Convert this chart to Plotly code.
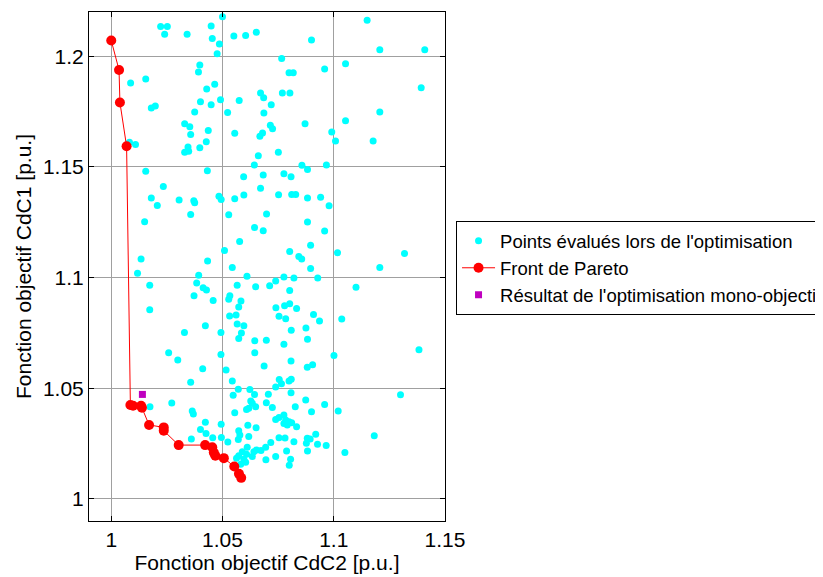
import plotly.graph_objects as go

# Evaluated points (CdC2, CdC1)
pts_x = [1.0222, 1.0252, 1.0240, 1.0341, 1.0449, 1.0500, 1.0454, 1.0486, 1.0476, 1.0551,
         1.0604, 1.0652, 1.0766, 1.1150, 1.0900, 1.1207, 1.1409,
         1.0398, 1.0392, 1.0087, 1.0155, 1.0429, 1.0465, 1.0401, 1.0449, 1.0491, 1.0575,
         1.0671, 1.0685, 1.0719, 1.0180, 1.0198, 1.0375, 1.0523, 1.0686, 1.0330, 1.0353,
         1.0357, 1.0436, 1.0555, 1.0715, 1.0725, 1.0680, 1.0668, 1.0082, 1.0109, 1.0345,
         1.0427, 1.0398, 1.1053, 1.0959, 1.0799, 1.0818, 1.1393, 1.0769, 1.0803, 1.1207,
         1.1053, 1.0871, 1.0991, 1.1008, 1.1177,
         1.0330, 1.0348, 1.0751, 1.0661, 1.0643, 1.0155, 1.0432, 1.0595, 1.0683, 1.0857,
         1.0882, 1.0967, 1.0776, 1.0808, 1.0234, 1.0180, 1.0207, 1.0305, 1.0371, 1.0375,
         1.0357, 1.0484, 1.0494, 1.0555, 1.0596, 1.0671, 1.0752, 1.0811, 1.0829, 1.0528,
         1.0698, 1.0150, 1.0644, 1.0683, 1.0577, 1.0509, 1.0882, 1.0941, 1.0979, 1.0882,
         1.0959, 1.0896,
         1.0802, 1.0843, 1.0856, 1.1017, 1.1318, 1.0134, 1.0433, 1.0544, 1.0896, 1.1207,
         1.0118, 1.0393, 1.0610, 1.0776, 1.0821, 1.0928, 1.0739, 1.0712, 1.0173, 1.0384,
         1.0413, 1.0428, 1.0566, 1.0649, 1.0802, 1.1100, 1.0372, 1.0458, 1.0533, 1.0528,
         1.0583, 1.0573, 1.0173, 1.0740, 1.0779, 1.0802, 1.0833, 1.0532, 1.0561, 1.0754,
         1.0784, 1.0909, 1.0936, 1.1036, 1.0423, 1.0566, 1.0596, 1.0875, 1.0809, 1.0329,
         1.0493, 1.0585, 1.0573, 1.0645, 1.0697, 1.0776, 1.0882,
         1.0258, 1.0299, 1.0493, 1.0645, 1.0687, 1.0516, 1.0411, 1.0808, 1.0881, 1.0905,
         1.1383, 1.1001, 1.0357, 1.0544, 1.0571, 1.0623, 1.0644, 1.0548, 1.0706, 1.0739,
         1.0755, 1.0765, 1.0799, 1.0809, 1.0808, 1.0627, 1.0634, 1.0608, 1.0618, 1.0649,
         1.0697, 1.0724, 1.0827, 1.0874, 1.0959, 1.1020, 1.1300, 1.0555, 1.0364, 1.0369,
         1.0272, 1.0174, 1.0900, 1.0739, 1.0754, 1.0776, 1.0784, 1.0799, 1.0791, 1.0811,
         1.0776, 1.0833, 1.0423, 1.0494, 1.0614, 1.0651, 1.0401, 1.0426, 1.0456, 1.0495,
         1.0360, 1.0573, 1.0578, 1.0571, 1.0618, 1.0524, 1.0717, 1.0754, 1.0781, 1.0821,
         1.0881, 1.0894, 1.0877, 1.0919, 1.0927, 1.0966, 1.1050, 1.1182, 1.0694, 1.0653,
         1.0641, 1.0611, 1.0589, 1.0573, 1.0608, 1.0634, 1.0695, 1.0739, 1.0806, 1.0800,
         1.0596, 1.0604, 1.0582, 1.0563, 1.0788, 1.0882, 1.0673]
pts_y = [1.2134, 1.2134, 1.2100, 1.2100, 1.2137, 1.2178, 1.2080, 1.2055, 1.2011, 1.2091,
         1.2094, 1.2109, 1.1990, 1.2163, 1.2074, 1.2029, 1.2029,
         1.1961, 1.1929, 1.1879, 1.1897, 1.1852, 1.1874, 1.1795, 1.1781, 1.1804, 1.1800,
         1.1834, 1.1813, 1.1781, 1.1766, 1.1775, 1.1748, 1.1746, 1.1744, 1.1695, 1.1681,
         1.1647, 1.1664, 1.1652, 1.1688, 1.1673, 1.1653, 1.1638, 1.1611, 1.1601, 1.1590,
         1.1614, 1.1587, 1.1966, 1.1943, 1.1925, 1.1925, 1.1858, 1.1834, 1.1834, 1.1748,
         1.1709, 1.1695, 1.1658, 1.1617, 1.1617,
         1.1566, 1.1571, 1.1566, 1.1551, 1.1509, 1.1480, 1.1483, 1.1455, 1.1464, 1.1507,
         1.1488, 1.1509, 1.1469, 1.1455, 1.1411, 1.1360, 1.1326, 1.1350, 1.1347, 1.1338,
         1.1285, 1.1367, 1.1353, 1.1356, 1.1373, 1.1404, 1.1374, 1.1375, 1.1375, 1.1284,
         1.1287, 1.1252, 1.1226, 1.1211, 1.1163, 1.1122, 1.1360, 1.1363, 1.1324, 1.1251,
         1.1210, 1.1146,
         1.1118, 1.1095, 1.1084, 1.1112, 1.1109, 1.1084, 1.1075, 1.1045, 1.1041, 1.1045,
         1.1020, 1.1010, 1.1006, 1.1003, 1.0998, 1.0998, 1.0985, 1.0963, 1.0965, 1.0975,
         1.0954, 1.0944, 1.0965, 1.0958, 1.0941, 1.0956, 1.0918, 1.0896, 1.0918, 1.0902,
         1.0894, 1.0867, 1.0855, 1.0864, 1.0873, 1.0882, 1.0860, 1.0826, 1.0831, 1.0825,
         1.0814, 1.0833, 1.0804, 1.0813, 1.0782, 1.0790, 1.0782, 1.0772, 1.0762, 1.0752,
         1.0752, 1.0750, 1.0725, 1.0715, 1.0717, 1.0699, 1.0721,
         1.0660, 1.0628, 1.0652, 1.0660, 1.0600, 1.0582, 1.0588, 1.0623, 1.0595, 1.0606,
         1.0674, 1.0648, 1.0527, 1.0533, 1.0495, 1.0494, 1.0472, 1.0468, 1.0473, 1.0506,
         1.0539, 1.0520, 1.0533, 1.0541, 1.0479, 1.0442, 1.0432, 1.0404, 1.0409, 1.0416,
         1.0434, 1.0413, 1.0416, 1.0447, 1.0426, 1.0397, 1.0470, 1.0389, 1.0397, 1.0383,
         1.0433, 1.0416, 1.0394, 1.0359, 1.0368, 1.0379, 1.0356, 1.0349, 1.0334, 1.0344,
         1.0341, 1.0326, 1.0346, 1.0337, 1.0333, 1.0321, 1.0314, 1.0295, 1.0276, 1.0277,
         1.0270, 1.0308, 1.0289, 1.0268, 1.0282, 1.0257, 1.0255, 1.0276, 1.0275, 1.0258,
         1.0274, 1.0270, 1.0251, 1.0292, 1.0247, 1.0241, 1.0209, 1.0285, 1.0233, 1.0221,
         1.0213, 1.0233, 1.0213, 1.0195, 1.0202, 1.0191, 1.0177, 1.0191, 1.0179, 1.0152,
         1.0179, 1.0165, 1.0156, 1.0184, 1.0216, 1.0216, 1.0219]

# Pareto front
pareto_x = [1.0000, 1.0035, 1.0039, 1.0069, 1.0086, 1.0098, 1.0134, 1.0138, 1.0170, 1.0236,
            1.0236, 1.0303, 1.0422, 1.0454, 1.0461, 1.0468, 1.0506, 1.0553, 1.0574, 1.0584]
pareto_y = [1.2071, 1.1938, 1.1791, 1.1593, 1.0424, 1.0421, 1.0421, 1.0412, 1.0334, 1.0323,
            1.0308, 1.0243, 1.0243, 1.0233, 1.0209, 1.0195, 1.0184, 1.0146, 1.0113, 1.0095]

# Mono-objective result
mono_x = [1.0140]
mono_y = [1.0472]

x_ticks = [1, 1.05, 1.1, 1.15]
x_tick_labels = ["1", "1.05", "1.1", "1.15"]
y_ticks = [1, 1.05, 1.1, 1.15, 1.2]
y_tick_labels = ["1", "1.05", "1.1", "1.15", "1.2"]

FONT = "Liberation Sans, Arial, sans-serif"

fig = go.Figure()
fig.add_trace(go.Scatter(
    x=pts_x, y=pts_y, mode="markers",
    name="Points évalués lors de l'optimisation",
    marker=dict(color="#00FFFF", size=7, line=dict(width=0)),
))
fig.add_trace(go.Scatter(
    x=pareto_x, y=pareto_y, mode="lines+markers",
    name="Front de Pareto",
    line=dict(color="#FF0000", width=1),
    marker=dict(color="#FF0000", size=10, line=dict(width=0)),
))
fig.add_trace(go.Scatter(
    x=mono_x, y=mono_y, mode="markers",
    name="Résultat de l'optimisation mono-objectif",
    marker=dict(color="#BF00BF", symbol="square", size=7, line=dict(width=0)),
))

axis_common = dict(
    showline=True, linecolor="black", linewidth=1, mirror="ticks",
    ticks="inside", ticklen=5, tickcolor="black", tickwidth=1,
    showgrid=True, gridcolor="#A0A0A0", gridwidth=1,
    zeroline=False,
    tickfont=dict(family=FONT, size=21, color="black"),
)

# The page body has an 8 px default margin, so the figure is drawn 8 px smaller
fig.update_layout(
    width=815, height=569,
    paper_bgcolor="white", plot_bgcolor="white",
    margin=dict(l=81, r=378, t=4, b=56, autoexpand=False),
    font=dict(family=FONT, color="black"),
    xaxis=dict(
        range=[0.99, 1.15], tickvals=x_ticks, ticktext=x_tick_labels,
        title=dict(text="Fonction objectif CdC2 [p.u.]", font=dict(family=FONT, size=21), standoff=0),
        **axis_common,
    ),
    yaxis=dict(
        range=[0.99, 1.22], tickvals=y_ticks, ticktext=y_tick_labels,
        title=dict(text="Fonction objectif CdC1 [p.u.]", font=dict(family=FONT, size=21), standoff=5),
        **axis_common,
    ),
    legend=dict(
        x=1.031, y=0.589, xanchor="left", yanchor="top",
        bgcolor="white", bordercolor="black", borderwidth=1,
        font=dict(family=FONT, size=18.5, color="black"),
        tracegroupgap=0, itemwidth=33,
    ),
    showlegend=True,
)

fig.write_html("out.html")
